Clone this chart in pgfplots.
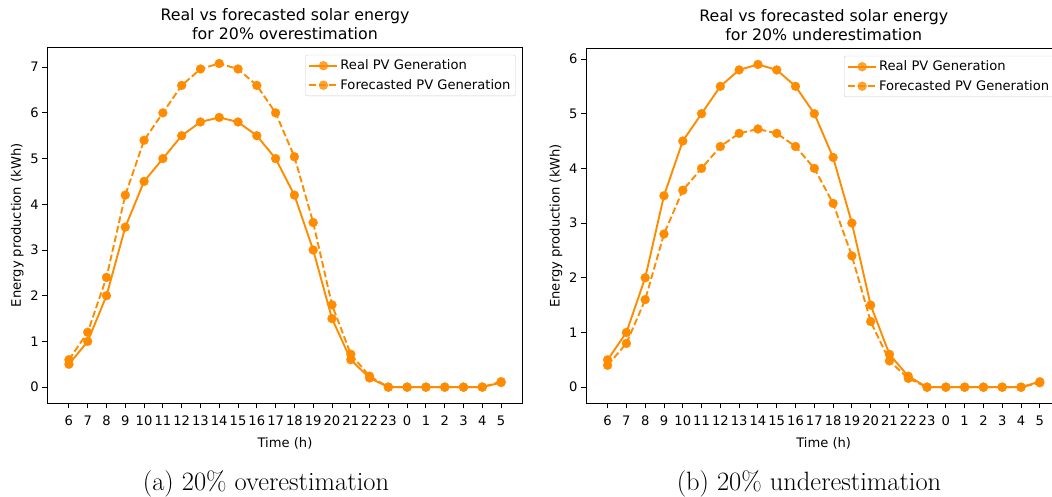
\documentclass[border=0pt]{standalone}
\usepackage{fontspec}
\usepackage{pgfplots}
\usepackage{pgfplotstable}
\pgfplotsset{compat=1.18}
\newfontfamily\dejavu{DejaVu Sans}
\definecolor{pvorange}{HTML}{FF8C00}
\newcommand\tickfont{\dejavu\fontsize{13.1}{15}\selectfont}
\newcommand\titlefont{\dejavu\fontsize{15.8}{19.5}\selectfont}

% hourly PV generation, 6h to 5h of the next day
\pgfplotstableread{
idx real over under
0  0.5 0.60 0.40
1  1.0 1.20 0.80
2  2.0 2.40 1.60
3  3.5 4.20 2.80
4  4.5 5.40 3.60
5  5.0 6.00 4.00
6  5.5 6.60 4.40
7  5.8 6.96 4.64
8  5.9 7.08 4.72
9  5.8 6.96 4.64
10 5.5 6.60 4.40
11 5.0 6.00 4.00
12 4.2 5.04 3.36
13 3.0 3.60 2.40
14 1.5 1.80 1.20
15 0.6 0.72 0.48
16 0.2 0.24 0.16
17 0.0 0.00 0.00
18 0.0 0.00 0.00
19 0.0 0.00 0.00
20 0.0 0.00 0.00
21 0.0 0.00 0.00
22 0.0 0.00 0.00
23 0.1 0.12 0.08
}\pvdata

\pgfplotsset{
  pvaxis/.style={
    scale only axis,
    width=475.4pt,
    xmin=-1.15, xmax=24.15,
    xtick={0,1,2,3,4,5,6,7,8,9,10,11,12,13,14,15,16,17,18,19,20,21,22,23},
    xticklabels={6,7,8,9,10,11,12,13,14,15,16,17,18,19,20,21,22,23,0,1,2,3,4,5},
    xtick pos=bottom, ytick pos=left,
    tick align=outside,
    major tick length=5pt,
    tick style={black, line width=0.9pt},
    axis line style={line width=0.9pt},
    ticklabel style={font=\tickfont},
    xticklabel style={yshift=-4pt},
    /pgf/number format/assume math mode=true,
    xlabel={Time (h)},
    ylabel={Energy production (kWh)},
    label style={font=\tickfont},
    xlabel style={yshift=-5pt},
    title style={font=\titlefont, align=center, inner sep=0pt, yshift=1pt},
    legend cell align=left,
    legend style={at={(1,1)}, anchor=north east, xshift=-7pt, yshift=-7.5pt,
      draw=black!20, rounded corners=2pt, fill=white, fill opacity=0.8,
      text opacity=1, font=\tickfont, row sep=4pt, inner sep=3pt},
    legend image code/.code={
      \draw[mark repeat=2, mark phase=2, #1] plot coordinates {(0pt,0pt) (14pt,0pt) (28pt,0pt)};
    },
  },
  realline/.style={pvorange, line width=1.9pt, mark=*, mark size=4.5pt,
    mark options={solid, fill=pvorange, draw=pvorange, line width=0.2pt}},
  fcline/.style={pvorange, line width=1.9pt, dash pattern=on 6.8pt off 3pt,
    mark=*, mark size=4.5pt,
    mark options={solid, fill=pvorange, draw=pvorange, line width=0.2pt}},
}

\begin{document}
\begin{tikzpicture}[x=1pt, y=1pt]
\begin{axis}[pvaxis,
  at={(47.3pt,-403.3pt)}, anchor=south west,
  height=356pt,
  ymin=-0.354, ymax=7.434, ytick={0,1,2,3,4,5,6,7},
  title={Real vs forecasted solar energy\\for 20\% overestimation}]
  \addplot[realline] table[x=idx, y=real] {\pvdata};
  \addlegendentry{Real PV Generation}
  \addplot[fcline] table[x=idx, y=over] {\pvdata};
  \addlegendentry{Forecasted PV Generation}
\end{axis}
\begin{axis}[pvaxis,
  at={(586pt,-403.3pt)}, anchor=south west,
  height=355pt,
  ymin=-0.295, ymax=6.195, ytick={0,1,2,3,4,5,6},
  title={Real vs forecasted solar energy\\for 20\% underestimation}]
  \addplot[realline] table[x=idx, y=real] {\pvdata};
  \addlegendentry{Real PV Generation}
  \addplot[fcline] table[x=idx, y=under] {\pvdata};
  \addlegendentry{Forecasted PV Generation}
\end{axis}
\node at (266pt,-484pt) {\fontsize{26.5}{30}\selectfont (a) 20\% overestimation};
\node at (809pt,-484pt) {\fontsize{26.5}{30}\selectfont (b) 20\% underestimation};
\pgfresetboundingbox
\path[use as bounding box] (0pt,0pt) rectangle (1052pt,-497pt);
\end{tikzpicture}
\end{document}
